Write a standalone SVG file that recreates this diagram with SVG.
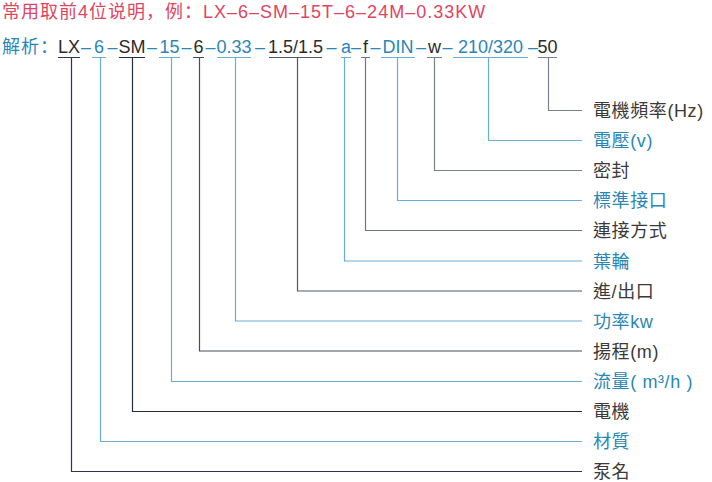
<svg xmlns="http://www.w3.org/2000/svg" width="712" height="482" viewBox="0 0 712 482">
<style>
text{font-family:"Liberation Sans","Noto Sans CJK TC",sans-serif;font-size:18px}
.hdr{fill:#e0455f;letter-spacing:1px;font-family:"Liberation Sans","Noto Sans CJK SC",sans-serif}
.blue{fill:#2a87b5}
.dark{fill:#2b2b2b}
.tok{text-anchor:middle}
.lab{letter-spacing:0.6px}
.lab.dark{fill:#3a3a3a}
.c{fill:none;stroke-width:1.2}
.cb{stroke:#66b0d4}
</style>
<rect width="712" height="482" fill="#fff"/>
<text class="hdr" x="2" y="17.5">常用取前4位说明，例：LX–6–SM–15T–6–24M–0.33KW</text>
<text class="blue" x="2" y="52.5" style="letter-spacing:1px;font-family:'Liberation Sans','Noto Sans CJK SC',sans-serif">解析：</text>
<g id="separators" class="blue tok">
<text x="86" y="52.5">–</text>
<text x="112.5" y="52.5">–</text>
<text x="152" y="52.5">–</text>
<text x="186.5" y="52.5">–</text>
<text x="210.5" y="52.5">–</text>
<text x="260" y="52.5">–</text>
<text x="331.5" y="52.5">–</text>
<text x="356" y="52.5">–</text>
<text x="375.5" y="52.5">–</text>
<text x="421" y="52.5">–</text>
<text x="447.5" y="52.5">–</text>
<text x="533" y="52.5">–</text>
</g>
<g id="connectors">
<path class="c" stroke="#7b808d" d="M538 57.5H557M548.5 57.5V110.5H582"/>
<path class="c cb" d="M453 57.5H528M488.5 57.5V140.5H582"/>
<path class="c" stroke="#7b808d" d="M427 57.5H442M434.5 57.5V170.5H582"/>
<path class="c cb" d="M381 57.5H415M397.5 57.5V200.5H582"/>
<path class="c" stroke="#6e7585" d="M361 57.5H370M365.5 57.5V230.5H582"/>
<path class="c cb" d="M341 57.5H351M344.5 57.5V261H582"/>
<path class="c" stroke="#50586c" d="M269 57.5H322M297.5 57.5V291H582"/>
<path class="c cb" d="M217 57.5H251M235.5 57.5V321H582"/>
<path class="c" stroke="#454d62" d="M193 57.5H204M199.5 57.5V351H582"/>
<path class="c cb" d="M159 57.5H180M171.5 57.5V381.5H582"/>
<path class="c" stroke="#232c45" d="M119 57.5H145M132.5 57.5V411.5H582"/>
<path class="c cb" d="M92 57.5H106M100.5 57.5V441.5H582"/>
<path class="c" stroke="#2c3550" d="M58 57.5H80M71.5 57.5V471.5H582"/>
</g>
<g id="n-50"><text class="tok dark" x="547.5" y="52.5">50</text><text class="lab dark" x="593" y="117">電機頻率(Hz)</text></g>
<g id="n-voltage"><text class="tok blue" x="490.5" y="52.5">210/320</text><text class="lab blue" x="593" y="147">電壓(v)</text></g>
<g id="n-seal"><text class="tok dark" x="434.5" y="52.5">w</text><text class="lab dark" x="593" y="177">密封</text></g>
<g id="n-din"><text class="tok blue" x="398" y="52.5">DIN</text><text class="lab blue" x="593" y="207">標準接口</text></g>
<g id="n-conn"><text class="tok dark" x="365.5" y="52.5">f</text><text class="lab dark" x="593" y="237">連接方式</text></g>
<g id="n-impeller"><text class="tok blue" x="346" y="52.5">a</text><text class="lab blue" x="593" y="267.5">葉輪</text></g>
<g id="n-port"><text class="tok dark" x="295.5" y="52.5">1.5/1.5</text><text class="lab dark" x="593" y="297.5">進/出口</text></g>
<g id="n-power"><text class="tok blue" x="234" y="52.5">0.33</text><text class="lab blue" x="593" y="327.5">功率kw</text></g>
<g id="n-head"><text class="tok dark" x="198.5" y="52.5">6</text><text class="lab dark" x="593" y="357.5">揚程(m)</text></g>
<g id="n-flow"><text class="tok blue" x="169.5" y="52.5">15</text><text class="lab blue" x="593" y="388">流量( m³/h )</text></g>
<g id="n-motor"><text class="tok dark" x="132" y="52.5">SM</text><text class="lab dark" x="593" y="418">電機</text></g>
<g id="n-material"><text class="tok blue" x="99" y="52.5">6</text><text class="lab blue" x="593" y="448">材質</text></g>
<g id="n-name"><text class="tok dark" x="69" y="52.5">LX</text><text class="lab dark" x="593" y="478">泵名</text></g>
</svg>
